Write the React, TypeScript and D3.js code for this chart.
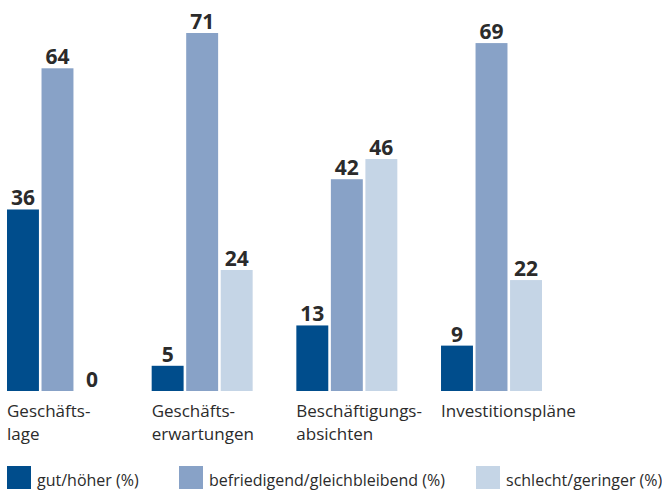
import * as d3 from 'd3';

// Umfrage-Ergebnisse je Kategorie, Anteile in Prozent
const CATEGORIES = ['Geschäftslage', 'Geschäftserwartungen', 'Beschäftigungsabsichten', 'Investitionspläne'];
const CATEGORY_LINES = [
  ['Geschäfts-', 'lage'],
  ['Geschäfts-', 'erwartungen'],
  ['Beschäftigungs-', 'absichten'],
  ['Investitionspläne'],
];
const SERIES = ['gut/höher (%)', 'befriedigend/gleichbleibend (%)', 'schlecht/geringer (%)'];
const GUT = [36, 5, 13, 9];
const BEFRIEDIGEND = [64, 71, 42, 69];
const SCHLECHT = [0, 24, 46, 22];

const COLORS = ['#004d8c', '#88a2c7', '#c5d5e6'];
const TEXT = '#2b2b2b';
const FONT = '"Open Sans", sans-serif';

const W = 662;
const H = 491;

export default function App() {
  const values = [GUT, BEFRIEDIGEND, SCHLECHT];

  const x0 = d3.scaleBand<string>().domain(CATEGORIES).range([7, 542]).paddingInner(0.302).paddingOuter(0);
  const x1 = d3.scaleBand<string>().domain(SERIES).range([0, x0.bandwidth()]).paddingInner(0.075);
  const y = d3.scaleLinear().domain([0, 71]).range([391, 33]);

  const legendX = [7, 179, 476];

  return (
    <svg width={W} height={H} style={{ position: 'absolute', left: 0, top: 0 }} fontFamily={FONT}>
      <rect width={W} height={H} fill="#fff" />
      {CATEGORIES.map((cat, ci) => (
        <g key={cat} transform={`translate(${x0(cat)},0)`}>
          {SERIES.map((s, si) => {
            const v = values[si][ci];
            const bx = x1(s)!;
            return (
              <g key={s}>
                {v > 0 && (
                  <rect x={bx} y={y(v)} width={x1.bandwidth()} height={y(0) - y(v)} fill={COLORS[si]} />
                )}
                <text
                  x={bx + x1.bandwidth() / 2}
                  y={y(v) - 4}
                  textAnchor="middle"
                  fontSize={21}
                  fontWeight={700}
                  fill={TEXT}
                >
                  {v}
                </text>
              </g>
            );
          })}
          {CATEGORY_LINES[ci].map((line, li) => (
            <text key={li} x={0} y={417 + li * 23} fontSize={17} fontWeight={500} fill={TEXT}>
              {line}
            </text>
          ))}
        </g>
      ))}
      {SERIES.map((s, si) => (
        <g key={s} transform={`translate(${legendX[si]},466)`}>
          <rect width={24} height={23} fill={COLORS[si]} />
          <text x={30} y={20} fontSize={16} fill={TEXT}>
            {s}
          </text>
        </g>
      ))}
    </svg>
  );
}
